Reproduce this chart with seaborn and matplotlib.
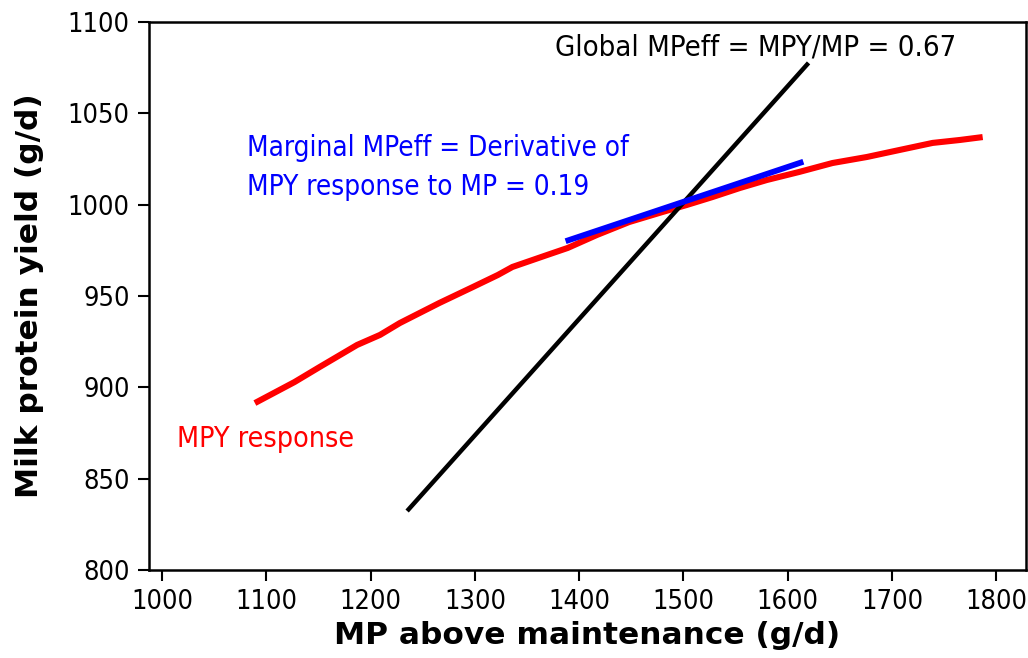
import matplotlib
matplotlib.use("Agg")
import matplotlib.pyplot as plt
import seaborn as sns
import pandas as pd

# Milk protein yield response to metabolizable protein supply
mp_supply = [1089, 1127, 1151, 1187, 1209, 1228, 1247, 1266, 1298, 1322, 1336,
             1369, 1389, 1417, 1448, 1480, 1503, 1528, 1554, 1580, 1611, 1643,
             1676, 1707, 1739, 1765, 1787]
mpy_response = [891.4, 902.9, 911.1, 923.2, 928.7, 935.2, 940.7, 946.2, 954.9,
                961.5, 965.9, 972.4, 976.3, 983.4, 990.5, 996.0, 999.8, 1004.2,
                1009.1, 1013.5, 1017.9, 1022.8, 1026.1, 1029.9, 1033.8, 1035.4,
                1037.0]

# Global efficiency line (black) and marginal tangent (blue)
global_x = [1235, 1620]
global_y = [832.3, 1077.6]
marginal_x = [1387, 1615]
marginal_y = [980.0, 1023.5]

x_ticks = [1000, 1100, 1200, 1300, 1400, 1500, 1600, 1700, 1800]
y_ticks = [800, 850, 900, 950, 1000, 1050, 1100]

sns.set_style("ticks")
plt.rcParams["font.family"] = ["DejaVu Sans"]
plt.rcParams["font.stretch"] = "condensed"

fig = plt.figure(figsize=(10.28, 6.58), dpi=100)
ax = fig.add_axes([0.145, 0.1337, 0.853, 0.8329])

curve = pd.DataFrame({"MP": mp_supply, "MPY": mpy_response})
sns.lineplot(data=curve, x="MP", y="MPY", ax=ax, color="#ff0000",
             linewidth=4.4, sort=False, solid_capstyle="butt")
sns.lineplot(x=global_x, y=global_y, ax=ax, color="black", linewidth=3.2,
             sort=False, solid_capstyle="butt")
sns.lineplot(x=marginal_x, y=marginal_y, ax=ax, color="#0000ff", linewidth=4.2,
             sort=False, solid_capstyle="butt")

ax.set_xlim(987.5, 1828.5)
ax.set_ylim(800, 1100)
ax.set_xticks(x_ticks)
ax.set_yticks(y_ticks)
ax.tick_params(axis="both", direction="out", length=8, width=1.5,
               labelsize=19.5, pad=6, colors="black")
for side in ["left", "right", "top", "bottom"]:
    ax.spines[side].set_visible(True)
    ax.spines[side].set_linewidth(1.8)
    ax.spines[side].set_color("black")

ax.set_xlabel("MP above maintenance (g/d)", fontsize=22.5, fontweight="bold",
              family="DejaVu Sans", fontstretch="normal", labelpad=4,
              color="black")
ax.set_ylabel("Milk protein yield (g/d)", fontsize=22.5, fontweight="bold",
              family="DejaVu Sans", fontstretch="normal", labelpad=17,
              color="black")

ax.text(1376.5, 1081.4, "Global MPeff = MPY/MP = 0.67", fontsize=21,
        color="black", va="baseline", ha="left")
ax.text(1081.4, 1026.7, "Marginal MPeff = Derivative of", fontsize=20,
        color="#0000ff", va="baseline", ha="left")
ax.text(1081.4, 1005.3, "MPY response to MP = 0.19", fontsize=20,
        color="#0000ff", va="baseline", ha="left")
ax.text(1014.4, 867.4, "MPY response", fontsize=20.5, color="#ff0000",
        va="baseline", ha="left")

fig.savefig("out.png", dpi=100)
